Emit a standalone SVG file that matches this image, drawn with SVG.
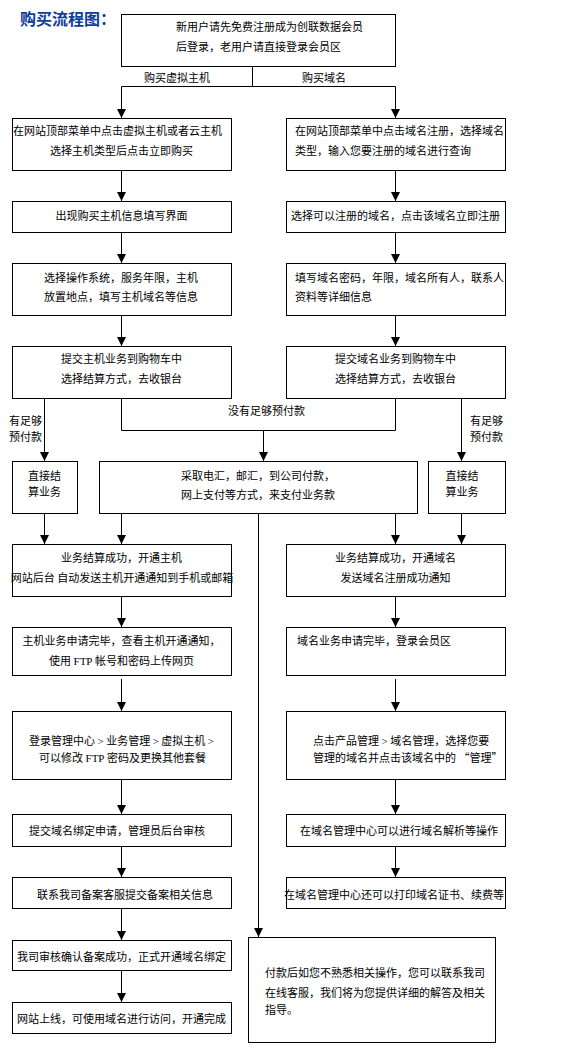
<svg xmlns="http://www.w3.org/2000/svg" width="572" height="1050" viewBox="0 0 572 1050">
<style>
.bx{fill:#fff;stroke:#000;stroke-width:1}
.t{font-family:"Noto Sans CJK SC","Noto Sans CJK TC",sans-serif;font-size:11px;fill:#000}
.m{text-anchor:middle}
.lat{font-family:"Liberation Serif",serif}
.ln{fill:none;stroke:#000;stroke-width:1}
.ttl{font-family:"Noto Sans CJK SC",sans-serif;font-size:16px;font-weight:bold;fill:#103c9c}
</style>
<defs>
<marker id="ah" markerUnits="userSpaceOnUse" viewBox="0 0 10 10" refX="10" refY="5" markerWidth="10" markerHeight="9" orient="auto">
<path d="M0,0 L10,5 L0,10 z" fill="#000"/>
</marker>
</defs>
<rect width="572" height="1050" fill="#fff"/>
<text class="ttl" x="20" y="25">购买流程图：</text>

<g id="connectors">
<line class="ln" x1="252.5" y1="66" x2="252.5" y2="86.5"/>
<polyline class="ln" points="121.5,100 121.5,86.5 395.5,86.5 395.5,100"/>
<line class="ln" x1="121.5" y1="100" x2="121.5" y2="118" marker-end="url(#ah)"/>
<line class="ln" x1="395.5" y1="100" x2="395.5" y2="118" marker-end="url(#ah)"/>
<text class="t" x="144" y="82">购买虚拟主机</text>
<text class="t" x="302" y="82">购买域名</text>

<line class="ln" x1="121.5" y1="170" x2="121.5" y2="201" marker-end="url(#ah)"/>
<line class="ln" x1="395.5" y1="170" x2="395.5" y2="201" marker-end="url(#ah)"/>
<line class="ln" x1="121.5" y1="232" x2="121.5" y2="263" marker-end="url(#ah)"/>
<line class="ln" x1="395.5" y1="232" x2="395.5" y2="263" marker-end="url(#ah)"/>
<line class="ln" x1="121.5" y1="315" x2="121.5" y2="346" marker-end="url(#ah)"/>
<line class="ln" x1="395.5" y1="315" x2="395.5" y2="346" marker-end="url(#ah)"/>

<line class="ln" x1="44.5" y1="398" x2="44.5" y2="461" marker-end="url(#ah)"/>
<text class="t" x="9" y="425">有足够</text>
<text class="t" x="9" y="441">预付款</text>
<polyline class="ln" points="121.5,398 121.5,430.5 395.5,430.5 395.5,398"/>
<line class="ln" x1="263.5" y1="430.5" x2="263.5" y2="461" marker-end="url(#ah)"/>
<text class="t" x="228" y="415">没有足够预付款</text>
<line class="ln" x1="461.5" y1="398" x2="461.5" y2="461" marker-end="url(#ah)"/>
<text class="t" x="470" y="425">有足够</text>
<text class="t" x="470" y="441">预付款</text>

<line class="ln" x1="44.5" y1="513" x2="44.5" y2="544" marker-end="url(#ah)"/>
<line class="ln" x1="121.5" y1="513" x2="121.5" y2="544" marker-end="url(#ah)"/>
<line class="ln" x1="395.5" y1="513" x2="395.5" y2="544" marker-end="url(#ah)"/>
<line class="ln" x1="461.5" y1="513" x2="461.5" y2="544" marker-end="url(#ah)"/>
<line class="ln" x1="258.5" y1="513" x2="258.5" y2="937" marker-end="url(#ah)"/>

<line class="ln" x1="121.5" y1="596" x2="121.5" y2="627" marker-end="url(#ah)"/>
<line class="ln" x1="395.5" y1="596" x2="395.5" y2="627" marker-end="url(#ah)"/>
<line class="ln" x1="121.5" y1="679" x2="121.5" y2="711" marker-end="url(#ah)"/>
<line class="ln" x1="395.5" y1="679" x2="395.5" y2="711" marker-end="url(#ah)"/>
<line class="ln" x1="121.5" y1="779" x2="121.5" y2="814" marker-end="url(#ah)"/>
<line class="ln" x1="395.5" y1="779" x2="395.5" y2="814" marker-end="url(#ah)"/>
<line class="ln" x1="121.5" y1="846" x2="121.5" y2="877" marker-end="url(#ah)"/>
<line class="ln" x1="395.5" y1="846" x2="395.5" y2="877" marker-end="url(#ah)"/>
<line class="ln" x1="121.5" y1="908" x2="121.5" y2="940" marker-end="url(#ah)"/>
<line class="ln" x1="121.5" y1="970" x2="121.5" y2="1002" marker-end="url(#ah)"/>
</g>

<g id="n-start">
<rect class="bx" x="121.5" y="14.5" width="274" height="52"/>
<text class="t" x="176" y="31">新用户请先免费注册成为创联数据会员</text>
<text class="t" x="176" y="51">后登录，老用户请直接登录会员区</text>
</g>

<g id="n-h1">
<rect class="bx" x="12.5" y="118.5" width="219" height="52"/>
<text class="t" x="13" y="135">在网站顶部菜单中点击虚拟主机或者云主机</text>
<text class="t m" x="121.5" y="155">选择主机类型后点击立即购买</text>
</g>
<g id="n-d1">
<rect class="bx" x="286.5" y="118.5" width="219" height="52"/>
<text class="t" x="295" y="135">在网站顶部菜单中点击域名注册，选择域名</text>
<text class="t" x="295" y="155">类型，输入您要注册的域名进行查询</text>
</g>

<g id="n-h2">
<rect class="bx" x="12.5" y="201.5" width="219" height="31"/>
<text class="t m" x="121.5" y="220">出现购买主机信息填写界面</text>
</g>
<g id="n-d2">
<rect class="bx" x="286.5" y="201.5" width="219" height="31"/>
<text class="t" x="291" y="220">选择可以注册的域名，点击该域名立即注册</text>
</g>

<g id="n-h3">
<rect class="bx" x="12.5" y="263.5" width="219" height="52"/>
<text class="t" x="44" y="282">选择操作系统，服务年限，主机</text>
<text class="t" x="44" y="301">放置地点，填写主机域名等信息</text>
</g>
<g id="n-d3">
<rect class="bx" x="286.5" y="263.5" width="219" height="52"/>
<text class="t" x="295" y="282">填写域名密码，年限，域名所有人，联系人</text>
<text class="t" x="295" y="301">资料等详细信息</text>
</g>

<g id="n-h4">
<rect class="bx" x="12.5" y="346.5" width="219" height="52"/>
<text class="t m" x="121.5" y="363">提交主机业务到购物车中</text>
<text class="t m" x="121.5" y="383">选择结算方式，去收银台</text>
</g>
<g id="n-d4">
<rect class="bx" x="286.5" y="346.5" width="219" height="52"/>
<text class="t m" x="395.5" y="363">提交域名业务到购物车中</text>
<text class="t m" x="395.5" y="383">选择结算方式，去收银台</text>
</g>

<g id="n-hpay">
<rect class="bx" x="12.5" y="461.5" width="65" height="52"/>
<text class="t m" x="44.5" y="480">直接结</text>
<text class="t m" x="44.5" y="496">算业务</text>
</g>
<g id="n-pay">
<rect class="bx" x="99.5" y="461.5" width="318" height="52"/>
<text class="t m" x="258" y="480">采取电汇，邮汇，到公司付款，</text>
<text class="t m" x="258" y="499">网上支付等方式，来支付业务款</text>
</g>
<g id="n-dpay">
<rect class="bx" x="428.5" y="461.5" width="77" height="52"/>
<text class="t m" x="462" y="480">直接结</text>
<text class="t m" x="462" y="496">算业务</text>
</g>

<g id="n-h5">
<rect class="bx" x="12.5" y="544.5" width="219" height="52"/>
<text class="t m" x="121.5" y="562">业务结算成功，开通主机</text>
<text class="t m" x="122" y="582">网站后台 自动发送主机开通通知到手机或邮箱</text>
</g>
<g id="n-d5">
<rect class="bx" x="286.5" y="544.5" width="219" height="52"/>
<text class="t m" x="395.5" y="562">业务结算成功，开通域名</text>
<text class="t m" x="395.5" y="582">发送域名注册成功通知</text>
</g>

<g id="n-h6">
<rect class="bx" x="12.5" y="627.5" width="219" height="48"/>
<text class="t m" x="121.5" y="645">主机业务申请完毕，查看主机开通通知，</text>
<text class="t m" x="121.5" y="665">使用 <tspan class="lat">FTP</tspan> 帐号和密码上传网页</text>
</g>
<g id="n-d6">
<rect class="bx" x="286.5" y="627.5" width="219" height="48"/>
<text class="t" x="297" y="645">域名业务申请完毕，登录会员区</text>
</g>

<g id="n-h7">
<rect class="bx" x="12.5" y="711.5" width="219" height="68"/>
<text class="t m" x="121.5" y="745">登录管理中心 <tspan class="lat">&gt;</tspan> 业务管理 <tspan class="lat">&gt;</tspan> 虚拟主机 <tspan class="lat">&gt;</tspan></text>
<text class="t m" x="122.5" y="762">可以修改 <tspan class="lat">FTP</tspan> 密码及更换其他套餐</text>
</g>
<g id="n-d7">
<rect class="bx" x="286.5" y="711.5" width="219" height="68"/>
<text class="t" x="313" y="745">点击产品管理 <tspan class="lat">&gt;</tspan> 域名管理，选择您要</text>
<text class="t" x="313" y="762">管理的域名并点击该域名中的 “管理”</text>
</g>

<g id="n-h8">
<rect class="bx" x="12.5" y="814.5" width="219" height="32"/>
<text class="t" x="29" y="835">提交域名绑定申请，管理员后台审核</text>
</g>
<g id="n-d8">
<rect class="bx" x="286.5" y="814.5" width="219" height="32"/>
<text class="t" x="300" y="835">在域名管理中心可以进行域名解析等操作</text>
</g>

<g id="n-h9">
<rect class="bx" x="12.5" y="877.5" width="219" height="31"/>
<text class="t" x="37" y="899">联系我司备案客服提交备案相关信息</text>
</g>
<g id="n-d9">
<rect class="bx" x="286.5" y="877.5" width="219" height="31"/>
<text class="t" x="284" y="899">在域名管理中心还可以打印域名证书、续费等</text>
</g>

<g id="n-h10">
<rect class="bx" x="12.5" y="940.5" width="219" height="30"/>
<text class="t" x="17" y="961">我司审核确认备案成功，正式开通域名绑定</text>
</g>
<g id="n-h11">
<rect class="bx" x="12.5" y="1002.5" width="219" height="31"/>
<text class="t" x="17" y="1023">网站上线，可使用域名进行访问，开通完成</text>
</g>

<g id="n-help">
<rect class="bx" x="248.5" y="937.5" width="247" height="105"/>
<text class="t" x="265" y="977">付款后如您不熟悉相关操作，您可以联系我司</text>
<text class="t" x="265" y="997">在线客服，我们将为您提供详细的解答及相关</text>
<text class="t" x="265" y="1014">指导。</text>
</g>
</svg>
